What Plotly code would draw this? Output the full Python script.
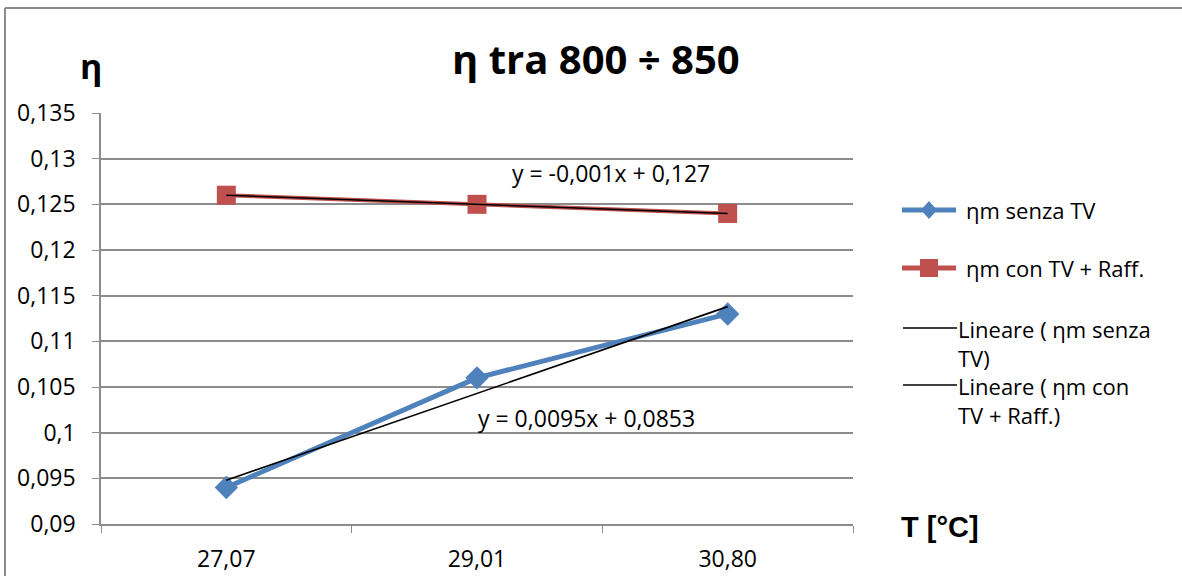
import plotly.graph_objects as go

# Temperature categories and efficiency values
temps = ["27,07", "29,01", "30,80"]
eta_senza_tv = [0.094, 0.106, 0.113]
eta_con_tv = [0.126, 0.125, 0.124]

# Linear trend coefficients (y = a*x + b, x = 1..n)
trend_senza = (0.0095, 0.0853)
trend_con = (-0.001, 0.127)

y_ticks = [0.09, 0.095, 0.1, 0.105, 0.11, 0.115, 0.12, 0.125, 0.13, 0.135]
y_ticklabels = [f"{v:g}".replace(".", ",") for v in y_ticks]

BLUE = "#4F81BD"
RED = "#C0504D"
GRID = "#8c8c8c"
FONT = "Open Sans"

W, H = 1182, 576
L, R, T, B = 101, 853, 113, 524  # plot area in pixels


def px(x):
    return (x - L) / (R - L)


def py(y):
    return (B - y) / (B - T)


def trend(coef, n):
    a, b = coef
    return [a * (i + 1) + b for i in range(n)]


fig = go.Figure()

fig.add_trace(go.Scatter(
    x=temps, y=eta_senza_tv, mode="lines+markers", name="ηm senza TV",
    line=dict(color=BLUE, width=5),
    marker=dict(symbol="diamond", size=18, color=BLUE),
    showlegend=False,
))
fig.add_trace(go.Scatter(
    x=temps, y=eta_con_tv, mode="lines+markers", name="ηm con TV + Raff.",
    line=dict(color=RED, width=4),
    marker=dict(symbol="square", size=19, color=RED),
    showlegend=False,
))
fig.add_trace(go.Scatter(
    x=temps, y=trend(trend_senza, len(temps)), mode="lines",
    name="Lineare ( ηm senza TV)", line=dict(color="black", width=1.6),
    showlegend=False,
))
fig.add_trace(go.Scatter(
    x=temps, y=trend(trend_con, len(temps)), mode="lines",
    name="Lineare ( ηm con TV + Raff.)", line=dict(color="black", width=1.6),
    showlegend=False,
))

shapes = []
annotations = []

# Outer chart frame (top and left edges)
shapes.append(dict(type="line", xref="paper", yref="paper",
                   x0=px(5), x1=px(W + 20), y0=py(8), y1=py(8),
                   line=dict(color="#8a8a8a", width=2), layer="below"))
shapes.append(dict(type="line", xref="paper", yref="paper",
                   x0=px(5), x1=px(5), y0=py(8), y1=py(H + 20),
                   line=dict(color="#8a8a8a", width=2), layer="below"))

# Legend entries (drawn manually to reproduce the long keys)
LEG_SIZE = 22
legend_items = [
    ("line_marker", BLUE, "diamond", "ηm senza TV", 210),
    ("line_marker", RED, "square", "ηm con TV + Raff.", 268),
    ("line", "black", None, "Lineare ( ηm senza<br>TV)", 328),
    ("line", "black", None, "Lineare ( ηm con<br>TV + Raff.)", 385),
]
for kind, color, sym, label, yy in legend_items:
    if kind == "line_marker":
        shapes.append(dict(type="line", xref="paper", yref="paper",
                           x0=px(902), x1=px(956), y0=py(yy), y1=py(yy),
                           line=dict(color=color, width=5)))
        if sym == "diamond":
            path = (f"M {px(929)} {py(yy - 9)} L {px(937)} {py(yy)} "
                    f"L {px(929)} {py(yy + 9)} L {px(921)} {py(yy)} Z")
        else:
            path = (f"M {px(920)} {py(yy - 9)} L {px(938)} {py(yy - 9)} "
                    f"L {px(938)} {py(yy + 9)} L {px(920)} {py(yy + 9)} Z")
        shapes.append(dict(type="path", xref="paper", yref="paper", path=path,
                           fillcolor=color, line=dict(color=color, width=0)))
        annotations.append(dict(xref="paper", yref="paper", x=px(964), y=py(yy),
                                text=label, showarrow=False, xanchor="left",
                                yanchor="middle",
                                font=dict(family=FONT, size=LEG_SIZE, color="black")))
    else:
        shapes.append(dict(type="line", xref="paper", yref="paper",
                           x0=px(903), x1=px(957), y0=py(yy), y1=py(yy),
                           line=dict(color=color, width=1.6)))
        annotations.append(dict(xref="paper", yref="paper", x=px(956), y=py(yy - 16),
                                text=label, showarrow=False, xanchor="left",
                                yanchor="top", align="left",
                                font=dict(family=FONT, size=LEG_SIZE, color="black")))

# Title and axis captions
annotations.append(dict(xref="paper", yref="paper", x=px(596), y=py(58),
                        text="<b>η tra 800 ÷ 850</b>", showarrow=False,
                        xanchor="center", yanchor="middle",
                        font=dict(family=FONT, size=40, color="black")))
annotations.append(dict(xref="paper", yref="paper", x=px(91), y=py(66),
                        text="<b>η</b>", showarrow=False,
                        xanchor="center", yanchor="middle",
                        font=dict(family=FONT, size=34, color="black")))
annotations.append(dict(xref="paper", yref="paper", x=px(940), y=py(527),
                        text="<b>T [°C]</b>", showarrow=False,
                        xanchor="center", yanchor="middle",
                        font=dict(family="Liberation Sans", size=29, color="black")))

# Trend-line equations
annotations.append(dict(xref="x", yref="paper", x=temps[1], y=py(173),
                        xshift=134, text="y = -0,001x + 0,127", showarrow=False,
                        xanchor="center", yanchor="middle",
                        font=dict(family=FONT, size=23, color="black")))
annotations.append(dict(xref="x", yref="paper", x=temps[1], y=py(418),
                        xshift=109, text="y = 0,0095x + 0,0853", showarrow=False,
                        xanchor="center", yanchor="middle",
                        font=dict(family=FONT, size=23, color="black")))

fig.update_layout(
    width=W, height=H,
    margin=dict(l=L, r=W - R, t=T, b=H - B, pad=0, autoexpand=False),
    paper_bgcolor="white", plot_bgcolor="white",
    shapes=shapes, annotations=annotations,
    showlegend=False,
    xaxis=dict(
        type="category", range=[-0.5, 2.5], automargin=False,
        tickson="boundaries", ticks="outside", ticklen=7, tickcolor=GRID,
        showgrid=False, showline=True, linecolor=GRID, linewidth=1.5,
        tickfont=dict(family=FONT, size=23, color="black"),
        ticklabelstandoff=14,
        zeroline=False,
    ),
    yaxis=dict(
        range=[0.09, 0.135], tickvals=y_ticks, ticktext=y_ticklabels,
        automargin=False,
        ticks="outside", ticklen=7, tickcolor=GRID,
        showgrid=True, gridcolor=GRID, gridwidth=1.5,
        showline=True, linecolor=GRID, linewidth=1.5,
        tickfont=dict(family=FONT, size=23, color="black"),
        ticklabelstandoff=12,
        zeroline=False,
    ),
)

fig.write_html("out.html")
